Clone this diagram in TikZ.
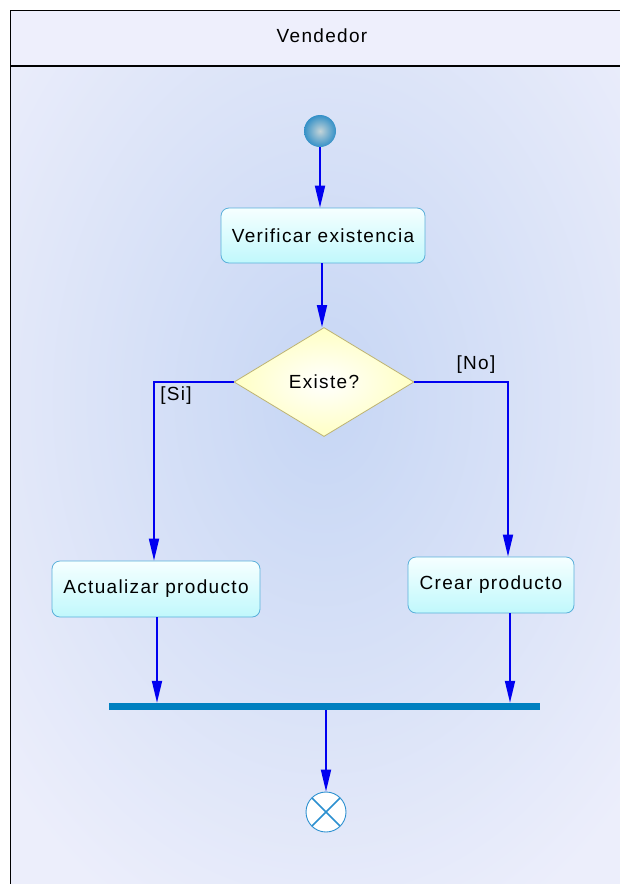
\documentclass[tikz,border=0pt]{standalone}
\usepackage{fontspec}
\setmainfont[LetterSpace=7]{Liberation Sans}
\usetikzlibrary{arrows.meta,shapes.geometric,calc}
\definecolor{lanebg}{HTML}{ECEEFB}
\definecolor{headbg}{HTML}{EEEFFC}
\definecolor{glow}{HTML}{C6D6F4}
\definecolor{flowblue}{HTML}{0000F0}
\definecolor{actborder}{HTML}{5AB0DA}
\definecolor{acttop}{HTML}{F6FFFF}
\definecolor{actbottom}{HTML}{C0F8FC}
\definecolor{decfill}{HTML}{FFFFC4}
\definecolor{decborder}{HTML}{BDB372}
\definecolor{barblue}{HTML}{0080C0}
\definecolor{ballouter}{HTML}{1A84C4}
\definecolor{ballinner}{HTML}{C4D4D8}
\definecolor{endblue}{HTML}{2C90D0}
\tikzset{
  txt/.style={font=\fontsize{19}{22}\selectfont, text=black},
  activity/.style={txt, draw=actborder, line width=0.8pt, rounded corners=8pt,
    top color=acttop, bottom color=actbottom, inner sep=0pt},
  decision/.style={txt, diamond, draw=decborder, line width=0.8pt,
    inner color=white, outer color=decfill, inner sep=0pt, aspect=1.65},
  flow/.style={draw=flowblue, line width=1.8pt,
    -{Triangle[length=22pt,width=10pt]}},
  guard/.style={txt}
}
\begin{document}
\begin{tikzpicture}[x=1pt,y=-1pt]
\useasboundingbox (0,0) rectangle (620,884);
% lane body with soft glow
\fill[white] (0,0) rectangle (620,884);
\fill[lanebg] (10,66) rectangle (620,884);
\begin{scope}
  \clip (10,66) rectangle (620,884);
  \shade[inner color=glow, outer color=lanebg] (323,400) ellipse (420 and 580);
\end{scope}
% lane header
\fill[headbg] (10,10) rectangle (620,65);
\draw[black, line width=0.8pt] (620,10) -- (10,10) -- (10,884);
\draw[black, line width=2pt] (10,66) -- (620,66);
\node[txt] (lane) at (322,36) {Vendedor};

% initial node
\node[circle, minimum size=32pt, inner sep=0pt,
  path picture={\shade[inner color=ballinner, outer color=ballouter]
    (path picture bounding box.center) circle (19pt);}] (start) at (320,131) {};

\node[activity, minimum width=204pt, minimum height=55pt] (verif) at (323,235.5) {Verificar existencia};
\node[decision, minimum width=180pt, minimum height=109pt] (dec) at (324,382) {Existe?};
\node[activity, minimum width=208pt, minimum height=56pt] (act) at (156,589) {Actualizar producto};
\node[activity, minimum width=166pt, minimum height=56pt] (crear) at (491,585) {Crear producto};

% join bar
\node[fill=barblue, minimum width=431pt, minimum height=7pt, inner sep=0pt] (bar) at (324.5,706.5) {};

% final node
\node[circle, draw=endblue, line width=0.9pt, fill=white, minimum size=40pt, inner sep=0pt,
  path picture={\draw[endblue, line width=1.6pt]
    ($(path picture bounding box.center)+(45:20pt)$) -- ($(path picture bounding box.center)+(225:20pt)$)
    ($(path picture bounding box.center)+(135:20pt)$) -- ($(path picture bounding box.center)+(315:20pt)$);}]
  (final) at (326,812) {};

% flows
\draw[flow] (start.south) -- (start.south |- verif.north);
\coordinate (verifout) at ([xshift=-1pt]verif.south);
\draw[flow] (verifout) -- (verifout |- dec.north);
\coordinate (siin) at ([xshift=-2pt]act.north);
\draw[flow] (dec.west) -| (siin);
\coordinate (noin) at ([xshift=17pt]crear.north);
\draw[flow] (dec.east) -| (noin);
\coordinate (actout) at ([xshift=1pt]act.south);
\draw[flow] (actout) -- (actout |- bar.north);
\coordinate (crearout) at ([xshift=19pt]crear.south);
\draw[flow] (crearout) -- (crearout |- bar.north);
\coordinate (barout) at (bar.south -| final.north);
\draw[flow] (barout) -- (final.north);

% guards
\node[guard] (gsi) at (176,396) {[Si]};
\node[guard] (gno) at (476,365) {[No]};
\end{tikzpicture}
\end{document}
